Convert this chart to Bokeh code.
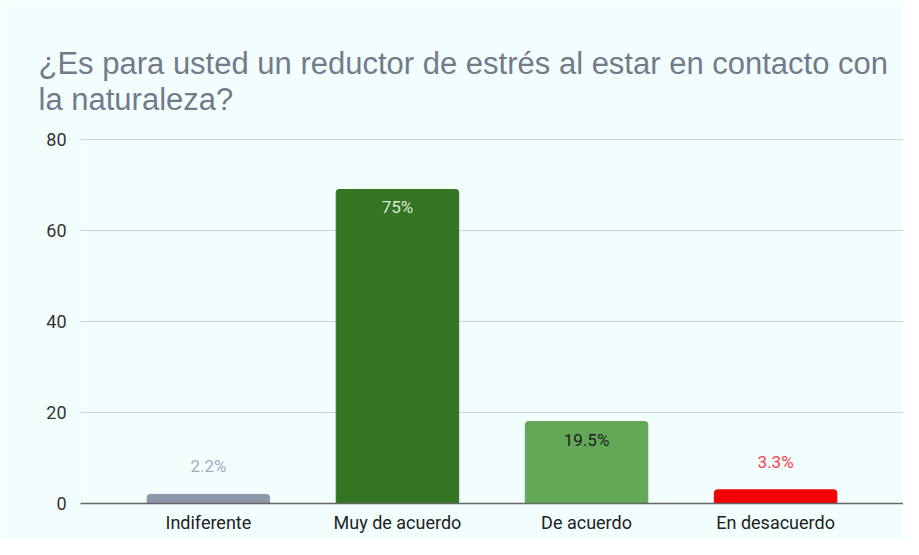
from bokeh.plotting import figure
from bokeh.models import FactorRange, Range1d, ColumnDataSource, FixedTicker, Title
from bokeh.core.properties import value
from bokeh.embed import file_html
from bokeh.resources import INLINE

# ---- data ----
categories = ["Indiferente", "Muy de acuerdo", "De acuerdo", "En desacuerdo"]
counts = [2, 69, 18, 3]
pct_labels = ["2.2%", "75%", "19.5%", "3.3%"]
y_ticks = [0, 20, 40, 60, 80]
title_lines = ["¿Es para usted un reductor de estrés al estar en contacto con", "la naturaleza?"]

# ---- styles ----
bar_colors = ["#8e97a8", "#347523", "#63a857", "#f30000"]
label_colors = ["#a3acc0", "#dce8d6", "#1d1d1d", "#ff3a46"]
BG = "#f2fefe"

label_offsets = [18 if c > 10 else -28 for c in counts]

src = ColumnDataSource(dict(cat=categories, val=counts, color=bar_colors,
                            lab=pct_labels, lcol=label_colors, loff=label_offsets))

p = figure(width=903, height=539, output_backend="svg", toolbar_location=None,
           title=None,
           x_range=FactorRange(factors=categories, range_padding=0.1765,
                               range_padding_units="absolute"),
           y_range=Range1d(0, 80.2))
p.min_border_left = 80
p.min_border_right = 0
p.min_border_top = 138
p.min_border_bottom = 36
p.outline_line_color = None
p.background_fill_color = BG
p.border_fill_color = BG

p.vbar(x="cat", top="val", width=0.648, color="color", source=src,
       border_radius=(3, 3, 0, 0))

p.text(x="cat", y="val", text="lab", text_color="lcol", y_offset="loff",
       text_align="center", text_baseline="middle",
       text_font=value("Roboto"), text_font_size="17px", source=src)

# axes
p.yaxis.ticker = FixedTicker(ticks=y_ticks)
p.yaxis.axis_line_color = None
p.yaxis.major_tick_line_color = None
p.yaxis.minor_tick_line_color = None
p.yaxis.major_label_text_font = "Roboto"
p.yaxis.major_label_text_font_size = "18px"
p.yaxis.major_label_text_color = "#333333"
p.yaxis.major_label_standoff = 8

p.xaxis.axis_line_color = "#666666"
p.xaxis.axis_line_width = 1.5
p.xaxis.major_tick_line_color = None
p.xaxis.minor_tick_line_color = None
p.xaxis.major_label_text_font = "Roboto"
p.xaxis.major_label_text_font_size = "18px"
p.xaxis.major_label_text_color = "#222222"
p.xaxis.major_label_standoff = 2

p.xgrid.grid_line_color = None
p.ygrid.grid_line_color = "#c8d2e2"
p.ygrid.grid_line_width = 1

# two-line title
p.add_layout(Title(text="\n".join(title_lines), text_font="Liberation Sans",
                   text_font_size="31px", text_font_style="normal",
                   text_color="#737a89", text_line_height=1.03,
                   offset=-42, standoff=43), "above")

open("out.html", "w").write(file_html(p, INLINE))
